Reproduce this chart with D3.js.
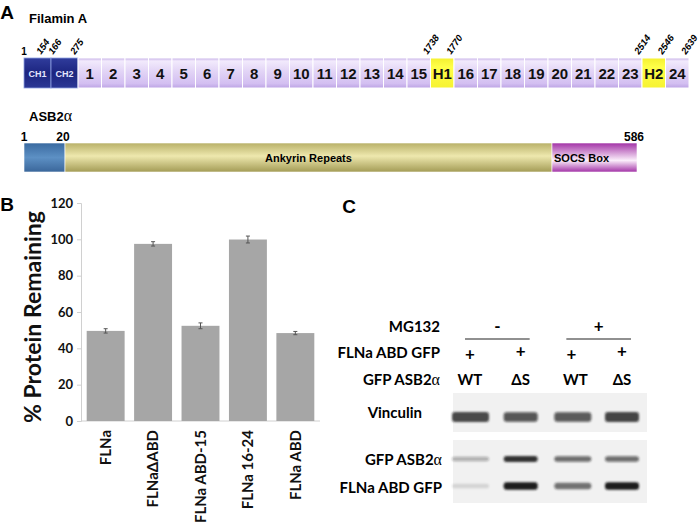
<!DOCTYPE html>
<html>
<head>
<meta charset="utf-8">
<script src="https://cdn.jsdelivr.net/npm/d3@7"></script>
<style>
  body { margin: 0; background: #fff; }
  svg { display: block; }
</style>
</head>
<body>
<div class="chart"></div>
<script>
// ---- data ----
// Filamin A domains
let chDomains = ["CH1", "CH2"];
let repeatDomains = ["1","2","3","4","5","6","7","8","9","10","11","12","13","14","15","H1",
  "16","17","18","19","20","21","22","23","H2","24"];
let hingeDomains = ["H1", "H2"];
// residue numbers and the domain edge they mark
let residueNums = [154, 166, 275, 1738, 1770, 2514, 2546, 2639];
let residueDomain = ["CH1", "CH2", "1", "H1", "16", "H2", "24", "24"];
let residueEdge = ["end", "start", "start", "start", "start", "start", "start", "end"];

// ASB2alpha segments (residues)
let asbBreaks = [1, 20, 540, 586];
let asbSegments = ["", "Ankyrin Repeats", "SOCS Box"];
let asbLabels = [1, 20, 586];

// Panel B
let constructs = ["FLNa", "FLNa\u0394ABD", "FLNa ABD-15", "FLNa 16-24", "FLNa ABD"];
let remaining = [49.6, 97.5, 52.4, 99.9, 48.4];
let remainingErr = [1.2, 1.2, 1.6, 1.9, 0.9];
let yTicks = [0, 20, 40, 60, 80, 100, 120];

// Panel C
let lanes = ["WT-", "dS-", "WT+", "dS+"];
let mg132 = ["-", "+"];
let flnaAbd = ["+", "+", "+", "+"];
let asbType = ["WT", "\u0394S", "WT", "\u0394S"];
let vinculin = [0.78, 0.72, 0.7, 0.8];
let gfpAsb = [0.3, 0.88, 0.62, 0.62];
let flnaGfp = [0.12, 1.0, 0.6, 1.0];

// ---- setup ----
let svgWidth = 700, svgHeight = 524;
let armFont = "'Liberation Sans', Arial, sans-serif";
let calFont = "Lato, 'Open Sans', sans-serif";

let svg = d3.select(".chart").append("svg")
  .attr("width", svgWidth)
  .attr("height", svgHeight);

let defs = svg.append("defs");
function vGrad(id, stops) {
  let g = defs.append("linearGradient").attr("id", id)
    .attr("x1", 0).attr("y1", 0).attr("x2", 0).attr("y2", 1);
  stops.forEach(s => g.append("stop").attr("offset", s[0]).attr("stop-color", s[1]));
}
vGrad("lav", [[0, "#c3ace6"], [0.1, "#f2eafc"], [0.45, "#e2d4f6"], [0.85, "#d3bff1"], [1, "#bca3e4"]]);
vGrad("navy", [[0, "#303c9c"], [0.5, "#1c2580"], [1, "#2b3795"]]);
vGrad("yel", [[0, "#f4f030"], [0.3, "#ffff48"], [1, "#f6f232"]]);
vGrad("blu", [[0, "#3a6aa0"], [0.5, "#5d90c4"], [1, "#3a669a"]]);
vGrad("kha", [[0, "#b8b068"], [0.45, "#eee8ae"], [1, "#a39b55"]]);
vGrad("mag", [[0, "#a232a6"], [0.6, "#fbeefb"], [1, "#a232a6"]]);
defs.append("filter").attr("id", "blur")
  .attr("x", "-20%").attr("y", "-80%").attr("width", "140%").attr("height", "260%")
  .append("feGaussianBlur").attr("stdDeviation", 1.3);

// panel letters
svg.selectAll("text.panel")
  .data([["A", 7, 19], ["B", 7, 211], ["C", 349, 213]])
  .enter().append("text")
  .attr("class", "panel")
  .attr("x", d => d[1]).attr("y", d => d[2])
  .attr("text-anchor", "middle")
  .style("font", `bold 19px ${armFont}`)
  .text(d => d[0]);

// ---- Panel A : Filamin A ----
let barTop = 58, barH = 30;
let chScale = d3.scaleBand().domain(chDomains).range([24, 78]);
let rpScale = d3.scaleBand().domain(repeatDomains).range([78, 689]);

svg.append("text").attr("x", 29).attr("y", 23)
  .style("font", `bold 13px ${armFont}`).text("Filamin A");

let flna = svg.append("g");
flna.selectAll("rect.ch")
  .data(chDomains).enter().append("rect")
  .attr("x", d => chScale(d)).attr("y", barTop)
  .attr("width", chScale.bandwidth()).attr("height", barH)
  .attr("fill", "url(#navy)")
  .attr("stroke", "#8ea0e0").attr("stroke-width", 0.8);
flna.selectAll("text.ch")
  .data(chDomains).enter().append("text")
  .attr("x", d => chScale(d) + chScale.bandwidth() / 2)
  .attr("y", barTop + barH / 2 + 3.5)
  .attr("text-anchor", "middle")
  .attr("fill", "#e4e6ff")
  .style("font", `bold 9px ${armFont}`)
  .text(d => d);

flna.selectAll("rect.rp")
  .data(repeatDomains).enter().append("rect")
  .attr("x", d => rpScale(d)).attr("y", barTop)
  .attr("width", rpScale.bandwidth()).attr("height", barH)
  .attr("fill", d => hingeDomains.includes(d) ? "url(#yel)" : "url(#lav)")
  .attr("stroke", "#fff").attr("stroke-width", 1);
flna.selectAll("text.rp")
  .data(repeatDomains).enter().append("text")
  .attr("x", d => rpScale(d) + rpScale.bandwidth() / 2)
  .attr("y", barTop + barH / 2 + 5.5)
  .attr("text-anchor", "middle")
  .attr("fill", "#111")
  .style("font", `bold 15px ${armFont}`)
  .text(d => d);

function edgeX(dom, edge) {
  let sc = chDomains.includes(dom) ? chScale : rpScale;
  return edge === "start" ? sc(dom) : sc(dom) + sc.bandwidth();
}
let nudge = {154: -7, 166: 5};
svg.append("text").attr("x", 24).attr("y", 55)
  .attr("text-anchor", "middle")
  .style("font", `bold 10px ${armFont}`).text(1);
svg.selectAll("text.res")
  .data(residueNums).enter().append("text")
  .attr("class", "res")
  .attr("transform", (d, i) =>
    `translate(${edgeX(residueDomain[i], residueEdge[i]) - 3 + (nudge[d] || 0)}, 55) rotate(-55)`)
  .style("font", `italic bold 9.5px ${armFont}`)
  .text(d => d);

// ---- Panel A : ASB2alpha ----
let asbTop = 143, asbH = 29;
let asbX = d3.scaleLinear().domain(asbBreaks).range([24, 65, 552, 637]);

svg.append("text").attr("x", 29).attr("y", 121)
  .style("font", `bold 13px ${armFont}`)
  .text("ASB2")
  .append("tspan").style("font", "16px 'Liberation Serif', serif").style("font-weight", "normal").text("\u03b1");

let segFills = ["url(#blu)", "url(#kha)", "url(#mag)"];
svg.selectAll("rect.asb")
  .data(asbSegments).enter().append("rect")
  .attr("x", (d, i) => asbX(asbBreaks[i]))
  .attr("y", asbTop)
  .attr("width", (d, i) => asbX(asbBreaks[i + 1]) - asbX(asbBreaks[i]))
  .attr("height", asbH)
  .attr("fill", (d, i) => segFills[i])
  .attr("stroke", "#fff").attr("stroke-width", 0.6);
svg.append("text")
  .attr("x", (asbX(asbBreaks[1]) + asbX(asbBreaks[2])) / 2).attr("y", asbTop + asbH / 2 + 4)
  .attr("text-anchor", "middle")
  .style("font", `bold 11px ${armFont}`).text(asbSegments[1]);
svg.append("text")
  .attr("x", asbX(asbBreaks[2]) + 2).attr("y", asbTop + asbH / 2 + 4)
  .style("font", `bold 11px ${armFont}`).text(asbSegments[2]);
svg.selectAll("text.asbnum")
  .data(asbLabels).enter().append("text")
  .attr("x", (d, i) => asbX(d) + (i === 0 ? 0 : i === 2 ? -3 : -2))
  .attr("y", 141)
  .attr("text-anchor", "middle")
  .style("font", `bold 12px ${armFont}`)
  .text(d => d);

// ---- Panel B : bar chart ----
let margin = {top: 203, left: 81};
let chartWidth = 239, chartHeight = 218;
let chart = svg.append("g").attr("transform", `translate(${margin.left}, ${margin.top})`);

let xBand = d3.scaleBand().domain(constructs).range([0, chartWidth]).paddingInner(0.2).paddingOuter(0.12);
let yLinear = d3.scaleLinear().domain([0, 120]).range([chartHeight, 0]);

let leftAxis = d3.axisLeft(yLinear).tickValues(yTicks).tickSize(4).tickPadding(4);
let yAxisG = chart.append("g").call(leftAxis);
yAxisG.select(".domain").attr("stroke", "#d0d0d0");
yAxisG.selectAll(".tick line").attr("stroke", "#d0d0d0");
yAxisG.selectAll(".tick text")
  .attr("fill", "#111")
  .style("font", `bold 13px ${calFont}`);

chart.append("line")
  .attr("x1", 0).attr("x2", chartWidth)
  .attr("y1", chartHeight).attr("y2", chartHeight)
  .attr("stroke", "#d0d0d0");

chart.selectAll("rect.bar")
  .data(remaining).enter().append("rect")
  .attr("x", (d, i) => xBand(constructs[i]))
  .attr("y", d => yLinear(d))
  .attr("width", xBand.bandwidth())
  .attr("height", d => chartHeight - yLinear(d))
  .attr("fill", "#a6a6a6");

let errG = chart.selectAll("g.err")
  .data(remaining).enter().append("g")
  .attr("transform", (d, i) => `translate(${xBand(constructs[i]) + xBand.bandwidth() / 2}, 0)`);
errG.append("line")
  .attr("y1", (d, i) => yLinear(d + remainingErr[i]))
  .attr("y2", (d, i) => yLinear(d - remainingErr[i]))
  .attr("stroke", "#555");
errG.append("line").attr("x1", -2).attr("x2", 2)
  .attr("y1", (d, i) => yLinear(d + remainingErr[i]))
  .attr("y2", (d, i) => yLinear(d + remainingErr[i]))
  .attr("stroke", "#555");
errG.append("line").attr("x1", -2).attr("x2", 2)
  .attr("y1", (d, i) => yLinear(d - remainingErr[i]))
  .attr("y2", (d, i) => yLinear(d - remainingErr[i]))
  .attr("stroke", "#555");

chart.selectAll("text.xl")
  .data(constructs).enter().append("text")
  .attr("transform", d => `translate(${xBand(d) + xBand.bandwidth() / 2}, ${chartHeight + 9}) rotate(-90)`)
  .attr("text-anchor", "end")
  .attr("dy", "0.36em")
  .attr("fill", "#111")
  .style("font", `bold 15px ${calFont}`)
  .text(d => d);

chart.append("text")
  .attr("transform", `translate(${33 - margin.left}, ${chartHeight / 2 + 5}) rotate(-90)`)
  .attr("text-anchor", "middle")
  .attr("dy", "0.35em")
  .attr("fill", "#111")
  .style("font", `bold 23px ${calFont}`)
  .text("% Protein Remaining");

// ---- Panel C : western blot ----
let laneX = d3.scalePoint().domain(lanes).range([470, 622]);
let labelRight = 440;
let cText = `bold 15px ${calFont}`;

let rowLabels = [["MG132", 332], ["FLNa ABD GFP", 358], ["GFP ASB2", 385]];
svg.selectAll("text.rowlab")
  .data(rowLabels).enter().append("text")
  .attr("x", labelRight).attr("y", d => d[1])
  .attr("text-anchor", "end")
  .style("font", cText)
  .text(d => d[0])
  .filter(d => d[0] === "GFP ASB2")
  .append("tspan").style("font", "16px 'Liberation Serif', serif").text("\u03b1");

// MG132 groups
let groups = [[lanes[0], lanes[1]], [lanes[2], lanes[3]]];
svg.selectAll("line.grp")
  .data(groups).enter().append("line")
  .attr("x1", d => laneX(d[0]) - 5).attr("x2", d => laneX(d[1]) + 9)
  .attr("y1", 339).attr("y2", 339)
  .attr("stroke", "#222").attr("stroke-width", 1.2);
svg.selectAll("text.mg")
  .data(mg132).enter().append("text")
  .attr("x", (d, i) => (laneX(groups[i][0]) + laneX(groups[i][1])) / 2 + 2)
  .attr("y", 332)
  .attr("text-anchor", "middle")
  .style("font", `bold 17px ${calFont}`)
  .text(d => d);
svg.selectAll("text.fl")
  .data(flnaAbd).enter().append("text")
  .attr("x", (d, i) => laneX(lanes[i]))
  .attr("y", (d, i) => i % 2 ? 357 : 360)
  .attr("text-anchor", "middle")
  .style("font", `bold 17px ${calFont}`)
  .text(d => d);
svg.selectAll("text.at")
  .data(asbType).enter().append("text")
  .attr("x", (d, i) => laneX(lanes[i]) + (i === 2 ? 4 : 0))
  .attr("y", 385)
  .attr("text-anchor", "middle")
  .style("font", cText)
  .text(d => d);

// blot panels
let blots = [
  {y: 393, h: 39, rows: [{vals: vinculin, cy: 417, h: 10}], labels: [["Vinculin", 418, 422]]},
  {y: 440, h: 63, rows: [{vals: gfpAsb, cy: 459, h: 6}, {vals: flnaGfp, cy: 486, h: 7}],
    labels: [["GFP ASB2", 465, 442], ["FLNa ABD GFP", 493, 442]]}
];
blots.forEach(b => {
  svg.append("rect").attr("x", 453).attr("y", b.y)
    .attr("width", 194).attr("height", b.h).attr("fill", "#f1f1f1");
  b.rows.forEach(r => {
    svg.append("g").attr("filter", "url(#blur)")
      .selectAll("rect").data(r.vals).enter().append("rect")
      .attr("x", (d, i) => laneX(lanes[i]) - 17 + (i === 0 ? -1 : 0))
      .attr("width", (d, i) => i % 2 ? 34 : 37)
      .attr("y", d => r.cy - (r.h * (0.6 + d * 0.5)) / 2)
      .attr("height", d => r.h * (0.6 + d * 0.5))
      .attr("rx", 3)
      .attr("fill", "#1a1a1a")
      .attr("opacity", d => d);
  });
  b.labels.forEach(l => {
    let t = svg.append("text").attr("x", l[2]).attr("y", l[1])
      .attr("text-anchor", "end").style("font", cText).text(l[0]);
    if (l[0] === "GFP ASB2") t.append("tspan").style("font", "16px 'Liberation Serif', serif").text("\u03b1");
  });
});
</script>
</body>
</html>
